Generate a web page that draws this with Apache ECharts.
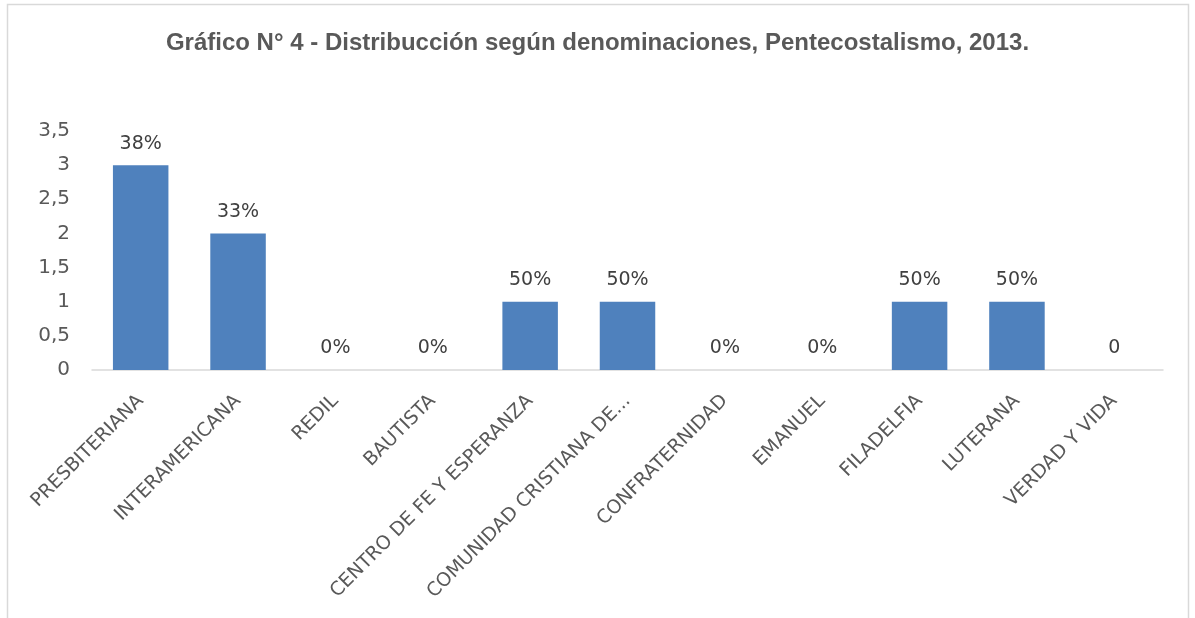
<!DOCTYPE html>
<html>
<head>
<meta charset="utf-8">
<script src="https://cdn.jsdelivr.net/npm/echarts@6/dist/echarts.min.js"></script>
<style>
  html, body { margin: 0; padding: 0; background: #fff; }
  #chart { width: 1195px; height: 618px; }
</style>
</head>
<body>
<div id="chart"></div>
<script>
const categories = [
  "PRESBITERIANA", "INTERAMERICANA", "REDIL", "BAUTISTA",
  "CENTRO DE FE Y ESPERANZA", "COMUNIDAD CRISTIANA DE...", "CONFRATERNIDAD",
  "EMANUEL", "FILADELFIA", "LUTERANA", "VERDAD Y VIDA",
];
const values = [3, 2, 0, 0, 1, 1, 0, 0, 1, 1, 0];
const percentLabels = ["38%", "33%", "0%", "0%", "50%", "50%", "0%", "0%", "50%", "50%", "0"];

const textColor = "#595959";
const chart = echarts.init(document.getElementById("chart"));

chart.setOption({
  animation: false,
  backgroundColor: "#fff",
  title: {
    text: "Gráfico N° 4 - Distribucción según denominaciones, Pentecostalismo, 2013.",
    left: "center",
    top: 26,
    textStyle: {
      color: textColor,
      fontWeight: "bold",
      fontSize: 24,
      fontFamily: "Liberation Sans",
    },
  },
  graphic: [
    {
      type: "rect",
      shape: { x: 7.5, y: 4.5, width: 1181, height: 640 },
      style: { fill: "none", stroke: "#d9d9d9", lineWidth: 1.5 },
    },
  ],
  grid: { left: 92, right: 32, top: 131, bottom: 248 },
  xAxis: {
    type: "category",
    data: categories,
    axisLine: { lineStyle: { color: "#d9d9d9", width: 1.5 } },
    axisTick: { show: false },
    axisLabel: {
      rotate: 45,
      interval: 0,
      margin: 28,
      color: textColor,
      fontSize: 19,
      fontFamily: "DejaVu Sans",
    },
  },
  yAxis: {
    type: "value",
    min: 0,
    max: 3.5,
    interval: 0.5,
    axisLine: { show: false },
    axisTick: { show: false },
    splitLine: { show: false },
    axisLabel: {
      margin: 22,
      color: textColor,
      fontSize: 20,
      fontFamily: "DejaVu Sans",
      formatter: (v) => String(v).replace(".", ","),
    },
  },
  series: [
    {
      type: "bar",
      data: values,
      barWidth: "57%",
      itemStyle: { color: "#4f81bd" },
      label: {
        show: true,
        position: "top",
        distance: 12,
        color: "#404040",
        fontSize: 19,
        fontFamily: "DejaVu Sans",
        formatter: (p) => percentLabels[p.dataIndex],
      },
    },
  ],
});
</script>
</body>
</html>
